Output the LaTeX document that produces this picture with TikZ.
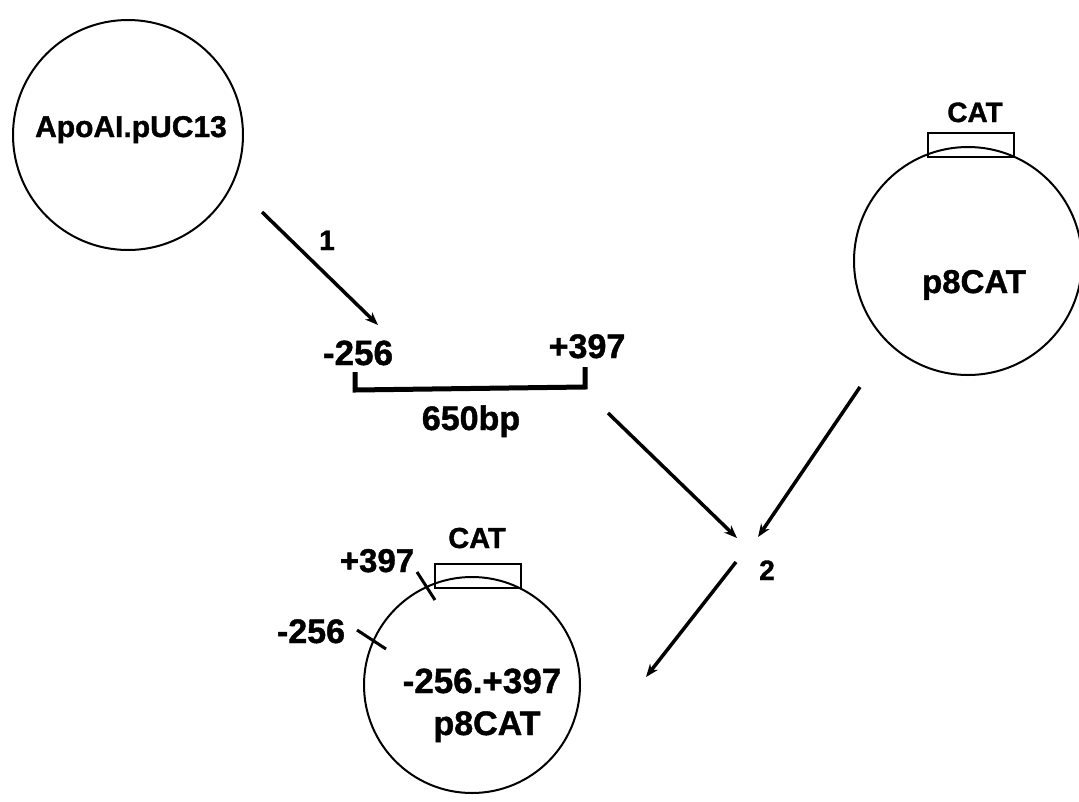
\documentclass[tikz,border=0pt]{standalone}
\usepackage{fontspec}
\setmainfont{Liberation Sans}
\newfontfamily\heavyfont{Liberation Sans Bold}[FakeBold=1.2]
\usetikzlibrary{arrows.meta}
\tikzset{
  plasmid/.style={circle, draw, line width=2pt, inner sep=0pt},
  genebox/.style={draw, line width=2pt, inner sep=0pt, minimum width=86pt, minimum height=24pt},
  lbl/.style={anchor=base, inner sep=0pt, font=\heavyfont\fontsize{32}{36}\selectfont},
  lblsm/.style={anchor=base, inner sep=0pt, font=\heavyfont\fontsize{28}{34}\selectfont},
  flow/.style={line width=3.5pt, -{Stealth[length=13pt,width=10pt]}},
  tick/.style={line width=3pt}
}
\begin{document}
\begin{tikzpicture}[x=1pt,y=-1pt]
\useasboundingbox (0,0) rectangle (1079,801);
% plasmids
\node[plasmid, minimum size=230pt] (apo) at (128,135) {};
\node[plasmid, minimum size=228pt] (p8) at (968,261) {};
\node[plasmid, minimum size=216pt] (res) at (472,685) {};
% gene boxes
\node[genebox] (catbox1) at (971,145) {};
\node[genebox] (catbox2) at (478,576) {};
% labels
\node[lbl, font=\heavyfont\fontsize{30}{36}\selectfont] (apolbl) at (131,137) {ApoAI.pUC13};
\node[lblsm] (cat1) at (975,122) {CAT};
\node[lbl, font=\heavyfont\fontsize{33}{38}\selectfont] (p8lbl) at (974,293) {p8CAT};
\node[lblsm] (step1) at (327,250) {1};
\node[lbl, font=\heavyfont\fontsize{35}{38}\selectfont] (m256) at (358,365) {-256};
\node[lbl, font=\heavyfont\fontsize{34}{38}\selectfont] (p397) at (587,358) {+397};
\node[lbl, font=\heavyfont\fontsize{34}{38}\selectfont] (bp) at (471,430) {650bp};
\node[lblsm] (step2) at (767,580) {2};
\node[lblsm, font=\heavyfont\fontsize{29}{34}\selectfont] (cat2) at (477,548) {CAT};
\node[lbl, font=\heavyfont\fontsize{33}{38}\selectfont] (rp397) at (377,572) {+397};
\node[lbl, font=\heavyfont\fontsize{34}{38}\selectfont] (rm256) at (311,643) {-256};
\node[lbl, font=\heavyfont\fontsize{35}{38}\selectfont] (reslbl1) at (482,693) {-256.+397};
\node[lbl, font=\heavyfont\fontsize{34}{38}\selectfont] (reslbl2) at (487,735) {p8CAT};
% fragment bracket
\draw[line width=5pt] (355,372) -- (355,390) -- (585,387) -- (585,367);
% junction ticks
\draw[tick] (417,572) -- (435,600);
\draw[tick] (357,630) -- (386,649);
% arrow end points
\coordinate (a1s) at (262,212);
\coordinate (a1e) at (378,325);
\coordinate (a2s) at (608,413);
\coordinate (a2e) at (737,538);
\coordinate (a3s) at (860,387);
\coordinate (a3e) at (758,537);
\coordinate (a4s) at (736,562);
\coordinate (a4e) at (646,677);
\draw[flow] (a1s) -- (a1e);
\draw[flow] (a2s) -- (a2e);
\draw[flow] (a3s) -- (a3e);
\draw[flow] (a4s) -- (a4e);
\end{tikzpicture}
\end{document}
